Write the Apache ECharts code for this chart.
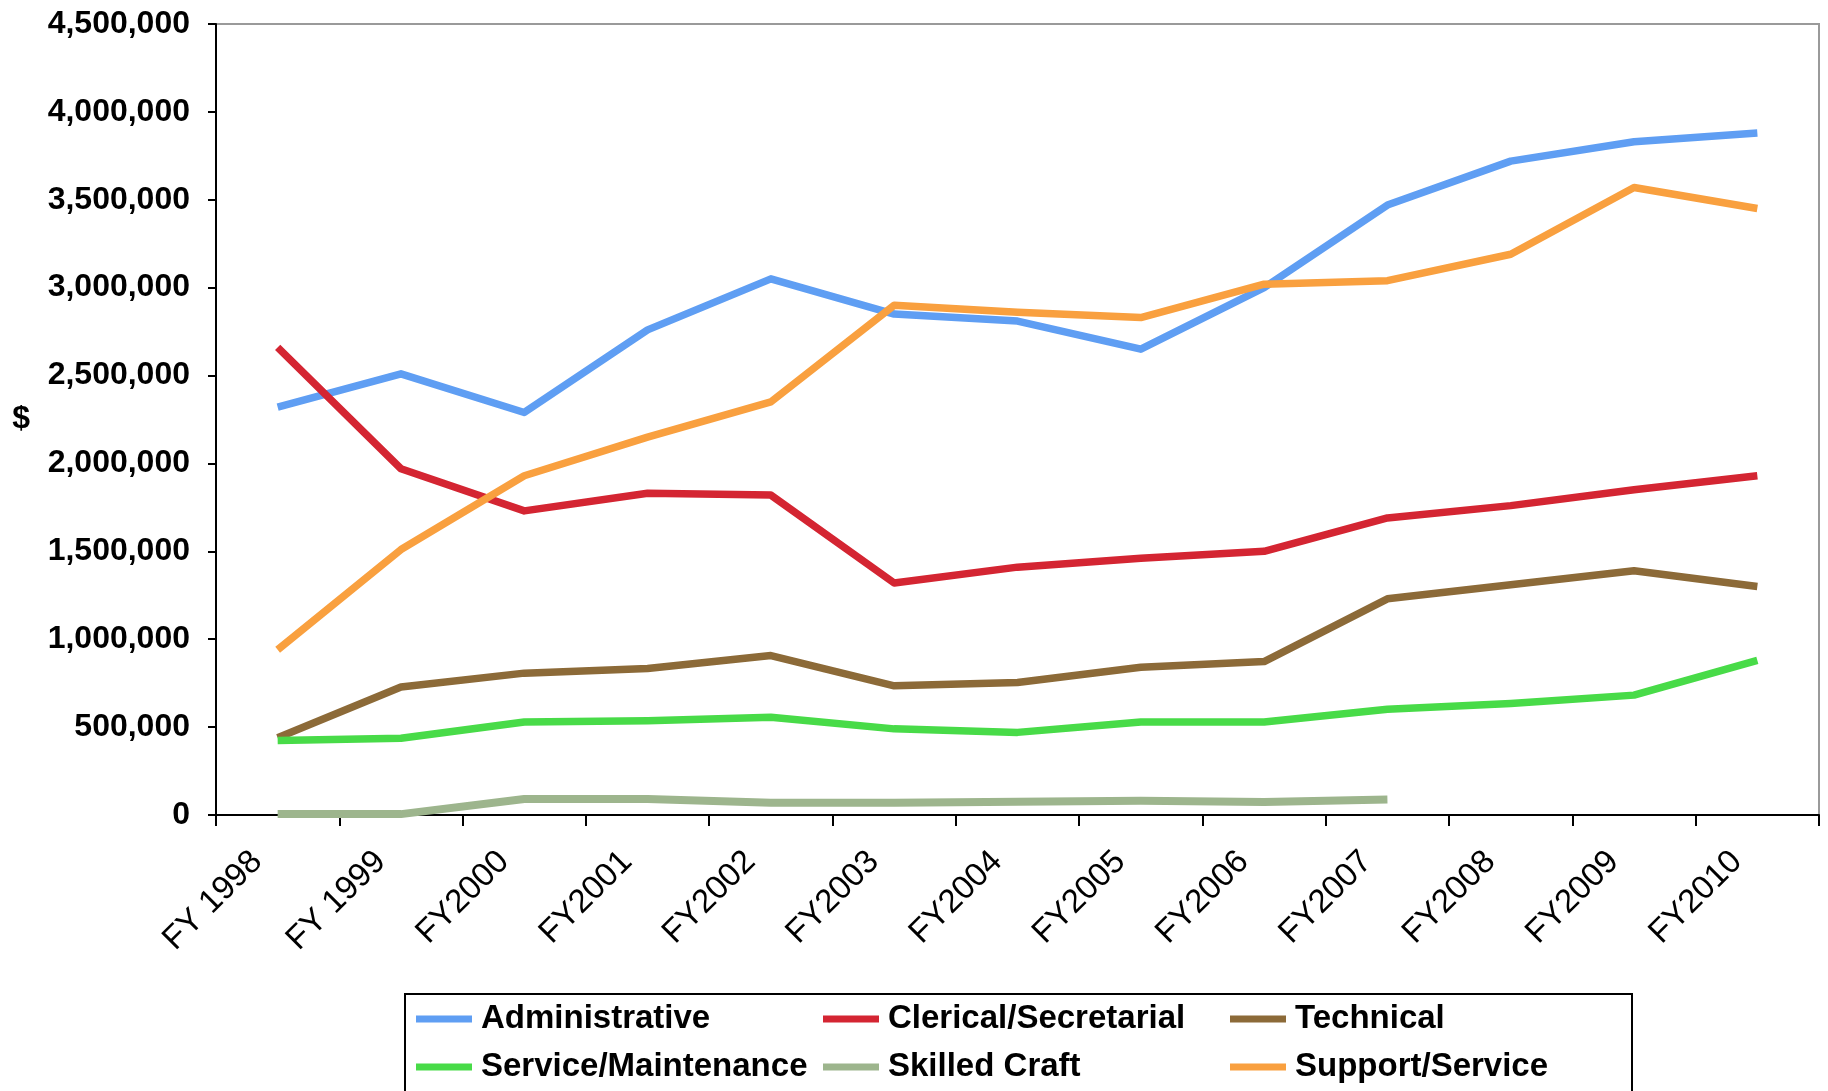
<!DOCTYPE html>
<html>
<head>
<meta charset="utf-8">
<script src="https://cdn.jsdelivr.net/npm/echarts@6/dist/echarts.min.js"></script>
<style>
html,body{margin:0;padding:0;background:#fff;}
#chart{width:1828px;height:1091px;}
</style>
</head>
<body>
<div id="chart"></div>
<script>
const categories = ['FY 1998','FY 1999','FY2000','FY2001','FY2002','FY2003','FY2004','FY2005','FY2006','FY2007','FY2008','FY2009','FY2010'];
const yTicks = [0,500000,1000000,1500000,2000000,2500000,3000000,3500000,4000000,4500000];

const administrative = [2320000,2510000,2290000,2760000,3050000,2850000,2810000,2650000,3000000,3470000,3720000,3830000,3880000];
const clerical = [2660000,1970000,1730000,1830000,1820000,1320000,1410000,1460000,1500000,1690000,1760000,1850000,1930000];
const technical = [440000,728000,807000,834000,907000,735000,754000,840000,873000,1230000,1310000,1390000,1300000];
const serviceMaint = [424000,437000,529000,536000,556000,490000,470000,529000,529000,602000,635000,682000,880000];
const skilledCraft = [5000,5000,91000,91000,70000,70000,75000,81000,74000,88000,null,null,null];
const supportService = [940000,1510000,1930000,2150000,2350000,2900000,2860000,2830000,3020000,3040000,3190000,3570000,3450000];

const seriesNames = ['Administrative','Clerical/Secretarial','Technical','Service/Maintenance','Skilled Craft','Support/Service'];
const seriesData = [administrative, clerical, technical, serviceMaint, skilledCraft, supportService];
const seriesColors = ['#5F9EF3','#D42532','#8C6A38','#48DB48','#9DB58D','#F9A03F'];
const seriesWidths = [7.5,7.5,7.5,7.5,8,7.5];

const chart = echarts.init(document.getElementById('chart'));
const fontFam = 'Liberation Sans, Arial, sans-serif';

chart.setOption({
  animation: false,
  backgroundColor: '#ffffff',
  grid: {
    left: 216, right: 9, top: 24, bottom: 276,
    show: true, borderColor: '#9a9a9a', borderWidth: 2, backgroundColor: 'transparent'
  },
  xAxis: {
    type: 'category',
    data: categories,
    boundaryGap: true,
    axisLine: { lineStyle: { color: '#000', width: 2 } },
    axisTick: { show: true, length: 11, lineStyle: { color: '#000', width: 2 } },
    axisLabel: {
      rotate: 45, margin: 21, fontSize: 33, color: '#000', fontFamily: fontFam,
      padding: [0, 29, 0, 0], interval: 0
    },
    splitLine: { show: false }
  },
  yAxis: {
    type: 'value',
    min: 0, max: 4500000, interval: 500000,
    name: '$',
    nameLocation: 'middle',
    nameRotate: 0,
    nameGap: 186,
    nameTextStyle: { fontSize: 32, fontWeight: 'bold', color: '#000', fontFamily: fontFam },
    axisLine: { show: true, lineStyle: { color: '#000', width: 2 } },
    axisTick: { show: true, length: 8, lineStyle: { color: '#000', width: 2 } },
    axisLabel: {
      margin: 26, fontSize: 32, fontWeight: 'bold', color: '#000', fontFamily: fontFam,
      formatter: v => v.toLocaleString('en-US')
    },
    splitLine: { show: false }
  },
  legend: {
    left: 405, top: 994,
    width: 1215,
    orient: 'horizontal',
    padding: [7, 7, 30, 11],
    borderColor: '#000', borderWidth: 2,
    icon: 'rect', itemWidth: 56, itemHeight: 7, itemGap: 12,
    textStyle: {
      fontSize: 33, fontWeight: 'bold', color: '#000', fontFamily: fontFam,
      width: 330, overflow: 'truncate', lineHeight: 36, padding: [0, 0, 0, 4]
    },
    data: seriesNames
  },
  series: seriesNames.map((n, i) => ({
    name: n,
    type: 'line',
    data: seriesData[i],
    symbol: 'none',
    connectNulls: false,
    lineStyle: { color: seriesColors[i], width: seriesWidths[i], join: 'round' },
    itemStyle: { color: seriesColors[i] }
  }))
});
</script>
</body>
</html>
